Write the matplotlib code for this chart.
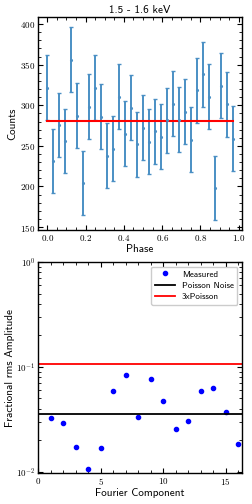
import numpy as np
import matplotlib
matplotlib.use('Agg')
import matplotlib.pyplot as plt
from matplotlib.ticker import MultipleLocator

plt.rcParams['font.family'] = 'cmr10'
plt.rcParams['mathtext.fontset'] = 'cm'
plt.rcParams['axes.unicode_minus'] = False
plt.rcParams['axes.formatter.use_mathtext'] = True

# pulse profile, 32 phase bins
counts = [321.5, 231, 276, 256, 356.4, 287, 204.4, 298, 321.5, 286, 238,
          246.7, 310.8, 265, 296.8, 252, 272.6, 255, 268, 261, 281.6, 301.8,
          282.5, 292.3, 257.8, 318.6, 338.3, 310.8, 198, 324, 301, 259]
count_err = [40, 39.5, 39.5, 40, 40.3, 40, 39, 40, 40, 40, 40, 40, 40.5,
             40, 40, 40, 40, 40, 40, 40, 40, 40, 40, 40, 40, 40, 40, 40,
             39.5, 40, 40, 40]
phase = np.arange(len(counts)) / len(counts)

# fourier amplitudes
harmonic = np.arange(1, 17)
rms_amp = [0.0327, 0.0293, 0.0172, 0.0105, 0.0168, 0.0587, 0.0845, 0.0334,
           0.0774, 0.0471, 0.0255, 0.0301, 0.0587, 0.0627, 0.0373, 0.0185]
poisson = 0.0358

sans = 'cmss10'

fig = plt.figure(figsize=(2.52, 5.04), dpi=100)
ax1 = fig.add_axes([0.151, 0.544, 0.809, 0.422])
ax2 = fig.add_axes([0.151, 0.0615, 0.809, 0.4185])

ax1.errorbar(phase, counts, yerr=count_err, fmt='.', color='#4a8fc4',
             ecolor='#4a8fc4', markersize=2.5, elinewidth=1.4, capsize=1.2)
ax1.plot([phase[0], phase[-1]], [np.mean(counts)] * 2, color='red', lw=1.5)
ax1.set_title('1.5 - 1.6 keV', family=sans, fontsize=8, pad=3)
ax1.set_xlabel('Phase', family=sans, fontsize=8, labelpad=1)
ax1.set_ylabel('Counts', family=sans, fontsize=8, labelpad=2)
ax1.xaxis.set_major_locator(MultipleLocator(0.2))
ax1.xaxis.set_minor_locator(MultipleLocator(0.05))
ax1.yaxis.set_major_locator(MultipleLocator(50))
ax1.yaxis.set_minor_locator(MultipleLocator(10))

ax2.plot(harmonic, rms_amp, 'o', color='blue', markersize=3, label='Measured')
ax2.axhline(poisson, color='black', lw=1.3, label='Poisson Noise')
ax2.axhline(3 * poisson, color='red', lw=1.3, label='3xPoisson')
ax2.set_yscale('log')
ax2.set_ylim(0.0097, 1)
ax2.set_xlim(0, 16.3)
ax2.xaxis.set_major_locator(MultipleLocator(5))
ax2.xaxis.set_minor_locator(MultipleLocator(1))
ax2.set_xlabel('Fourier Component', family=sans, fontsize=8, labelpad=1)
ax2.set_ylabel('Fractional rms Amplitude', family=sans, fontsize=8, labelpad=1)
leg = ax2.legend(loc='upper right', prop={'family': sans, 'size': 6.5},
                 fancybox=True, framealpha=1, edgecolor='#cccccc',
                 handlelength=2.2, borderpad=0.4, labelspacing=0.35)

for ax in (ax1, ax2):
    ax.tick_params(which='both', direction='in', top=True, right=True,
                   labelsize=6.5, pad=2)
    ax.tick_params(which='major', length=3.5, width=0.8)
    ax.tick_params(which='minor', length=2, width=0.6)
    for s in ax.spines.values():
        s.set_linewidth(1.0)

fig.savefig('out.png', dpi=100)
